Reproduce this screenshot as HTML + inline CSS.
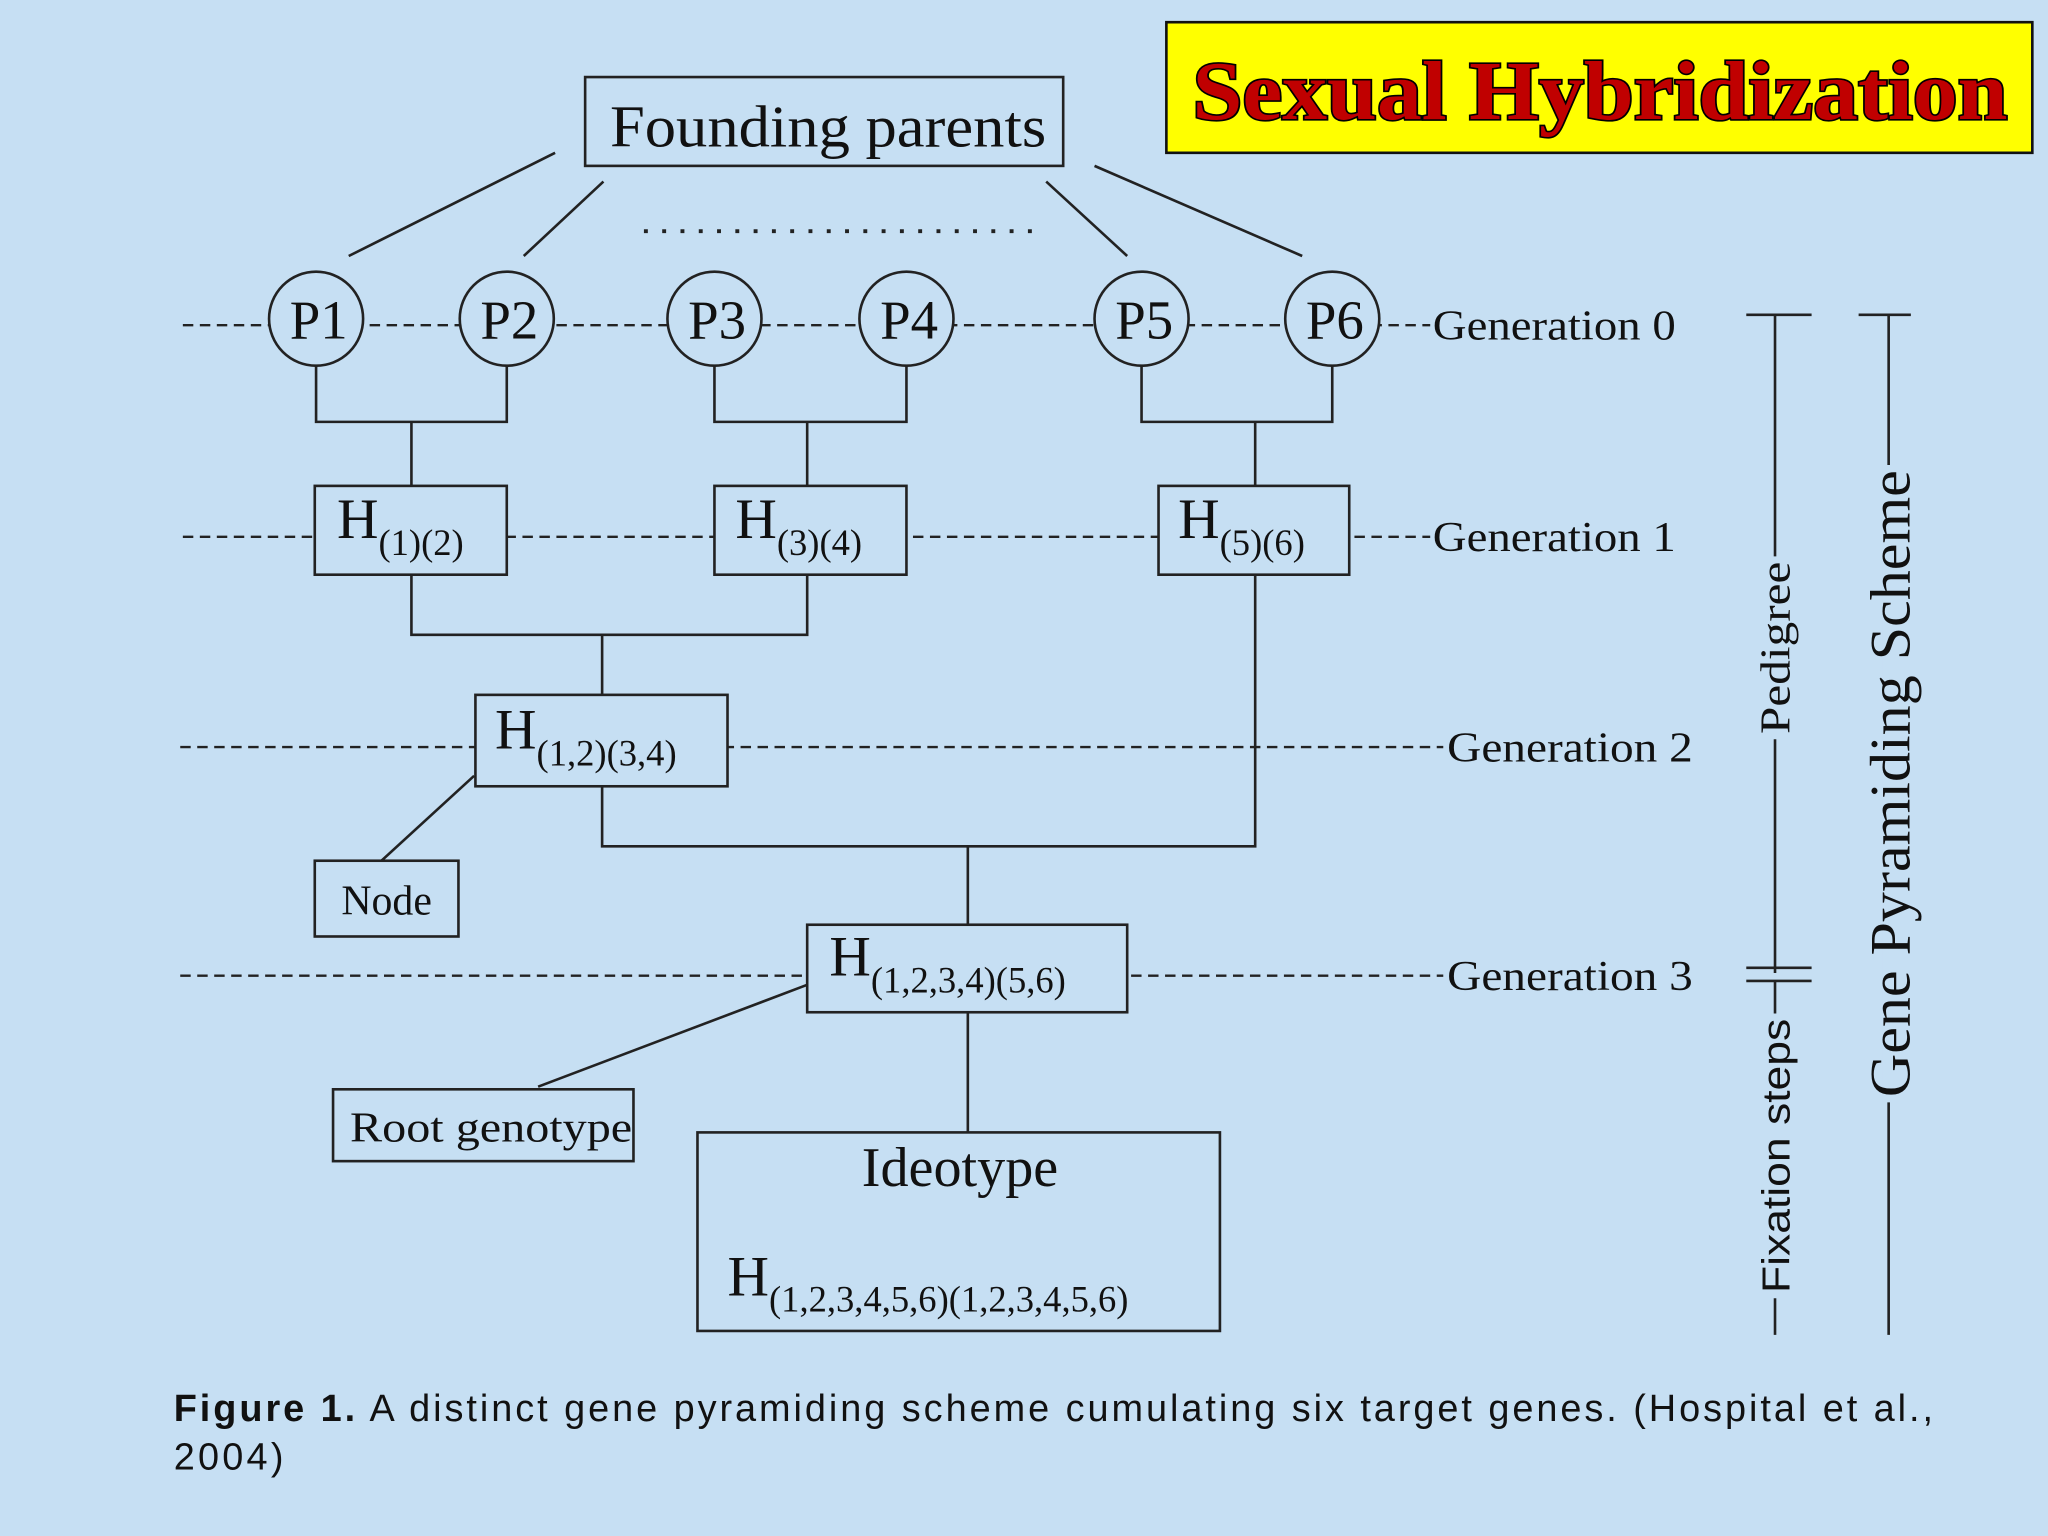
<!DOCTYPE html>
<html><head><meta charset="utf-8"><style>
html,body{margin:0;padding:0;background:#c6dff3;}
svg{display:block}
</style></head><body>
<svg width="2048" height="1536" viewBox="0 0 1568 1176" xmlns="http://www.w3.org/2000/svg">
<rect width="1568" height="1176" fill="#c6dff3"/>
<g font-family="Liberation Serif, serif" fill="#111">
<!-- title -->
<rect x="893" y="17" width="663" height="100" fill="#ffff00" stroke="#111" stroke-width="2"/>
<text x="913" y="91" textLength="624" lengthAdjust="spacingAndGlyphs" font-size="64" font-weight="bold" fill="#c00000" stroke="#000" stroke-width="2.5" paint-order="stroke">Sexual Hybridization</text>

<g stroke="#222" stroke-width="2" fill="none">
<rect x="448" y="59" width="366" height="68"/>
<line x1="425" y1="117" x2="267" y2="196"/>
<line x1="462" y1="139" x2="401" y2="196"/>
<line x1="801" y1="139" x2="863" y2="196"/>
<line x1="838" y1="127" x2="997" y2="196"/>
<line x1="493" y1="177" x2="792" y2="177" stroke-dasharray="3 11" stroke-width="3"/>
<g stroke-dasharray="8 5" stroke-width="1.8">
<line x1="140" y1="249" x2="1095" y2="249"/>
<line x1="140" y1="411" x2="1095" y2="411"/>
<line x1="138" y1="572" x2="1105" y2="572"/>
<line x1="138" y1="747" x2="1105" y2="747"/>
</g>
<g fill="#c6dff3">
<circle cx="242" cy="244" r="36"/><circle cx="388" cy="244" r="36"/>
<circle cx="547" cy="244" r="36"/><circle cx="694" cy="244" r="36"/>
<circle cx="874" cy="244" r="36"/><circle cx="1020" cy="244" r="36"/>
</g>
<polyline points="242,280 242,323 388,323 388,280"/>
<line x1="315" y1="323" x2="315" y2="372"/>
<polyline points="547,280 547,323 694,323 694,280"/>
<line x1="618" y1="323" x2="618" y2="372"/>
<polyline points="874,280 874,323 1020,323 1020,280"/>
<line x1="961" y1="323" x2="961" y2="372"/>
<polyline points="315,440 315,486 618,486 618,440"/>
<line x1="461" y1="486" x2="461" y2="532"/>
<polyline points="461,602 461,648 961,648 961,440"/>
<line x1="741" y1="648" x2="741" y2="708"/>
<line x1="741" y1="775" x2="741" y2="867"/>
<line x1="363" y1="594" x2="292" y2="659"/>
<line x1="618" y1="754" x2="412" y2="832"/>
<g fill="#c6dff3">
<rect x="241" y="372" width="147" height="68"/>
<rect x="547" y="372" width="147" height="68"/>
<rect x="887" y="372" width="146" height="68"/>
<rect x="364" y="532" width="193" height="70"/>
<rect x="618" y="708" width="245" height="67"/>
</g>
<rect x="241" y="659" width="110" height="58"/>
<rect x="255" y="834" width="230" height="55"/>
<rect x="534" y="867" width="400" height="152"/>
<line x1="1359" y1="241" x2="1359" y2="745"/>
<line x1="1337" y1="241" x2="1387" y2="241"/>
<line x1="1337" y1="741" x2="1387" y2="741"/>
<line x1="1337" y1="751" x2="1387" y2="751"/>
<line x1="1359" y1="751" x2="1359" y2="1022"/>
<line x1="1446" y1="241" x2="1446" y2="1022"/>
<line x1="1423" y1="241" x2="1463" y2="241"/>
</g>
<g stroke="#c6dff3" stroke-width="10">
<line x1="1359" y1="426" x2="1359" y2="566"/>
<line x1="1359" y1="776" x2="1359" y2="994"/>
<line x1="1446" y1="356" x2="1446" y2="844"/>
</g>

<text x="467" y="112" textLength="334" lengthAdjust="spacingAndGlyphs" font-size="45">Founding parents</text>
<g font-size="42" text-anchor="middle">
<text x="244" y="259">P1</text><text x="390" y="259">P2</text>
<text x="549" y="259">P3</text><text x="696" y="259">P4</text>
<text x="876" y="259">P5</text><text x="1022" y="259">P6</text>
</g>
<g font-size="32">
<text x="1097" y="260" textLength="186" lengthAdjust="spacingAndGlyphs">Generation 0</text>
<text x="1097" y="422" textLength="186" lengthAdjust="spacingAndGlyphs">Generation 1</text>
<text x="1108" y="583" textLength="188" lengthAdjust="spacingAndGlyphs">Generation 2</text>
<text x="1108" y="758" textLength="188" lengthAdjust="spacingAndGlyphs">Generation 3</text>
</g>
<g font-size="44">
<text x="258" y="412">H<tspan font-size="28" dy="13">(1)(2)</tspan></text>
<text x="563" y="412">H<tspan font-size="28" dy="13">(3)(4)</tspan></text>
<text x="902" y="412">H<tspan font-size="28" dy="13">(5)(6)</tspan></text>
<text x="379" y="573">H<tspan font-size="28" dy="13">(1,2)(3,4)</tspan></text>
<text x="635" y="747">H<tspan font-size="28" dy="13">(1,2,3,4)(5,6)</tspan></text>
<text x="557" y="992">H<tspan font-size="28" dy="12">(1,2,3,4,5,6)(1,2,3,4,5,6)</tspan></text>
</g>
<text x="296" y="700" text-anchor="middle" font-size="32">Node</text>
<text x="268" y="874" textLength="216" lengthAdjust="spacingAndGlyphs" font-size="32">Root genotype</text>
<text x="735" y="908" text-anchor="middle" font-size="43">Ideotype</text>
<text transform="translate(1370,562) rotate(-90)" textLength="132" lengthAdjust="spacingAndGlyphs" font-size="32">Pedigree</text>
<text transform="translate(1370,990) rotate(-90)" textLength="210" lengthAdjust="spacingAndGlyphs" font-family="Liberation Sans, sans-serif" font-size="30">Fixation steps</text>
<text transform="translate(1462,840) rotate(-90)" textLength="480" lengthAdjust="spacingAndGlyphs" font-size="44">Gene Pyramiding Scheme</text>

<g font-family="Liberation Sans, sans-serif" font-size="29">
<text x="133" y="1088" textLength="1347" lengthAdjust="spacing"><tspan font-weight="bold">Figure 1.</tspan> A distinct gene pyramiding scheme cumulating six target genes. (Hospital et al.,</text>
<text x="133" y="1125" textLength="84" lengthAdjust="spacing">2004)</text>
</g>
</g>
</svg>
</body></html>
